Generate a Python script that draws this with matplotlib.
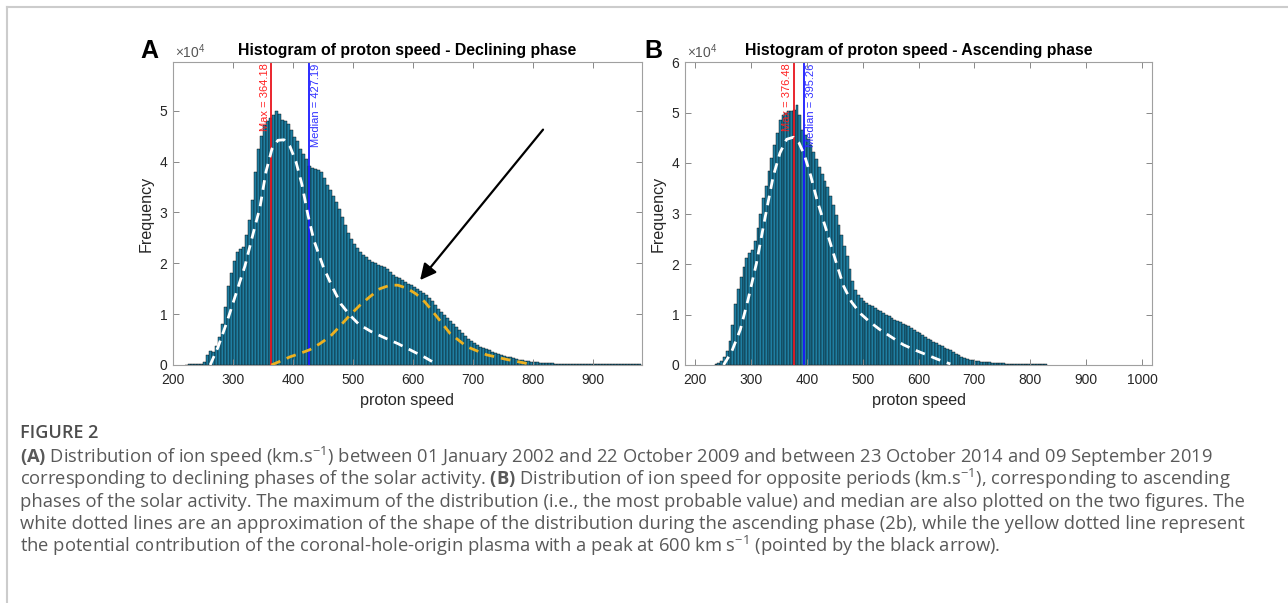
import matplotlib
matplotlib.use('Agg')
import matplotlib.pyplot as plt
from matplotlib.lines import Line2D
import numpy as np

plt.rcParams['font.family'] = ['Liberation Sans', 'DejaVu Sans']
plt.rcParams['mathtext.fontset'] = 'custom'
plt.rcParams['mathtext.rm'] = 'Open Sans'
plt.rcParams['mathtext.bf'] = 'Open Sans:bold'

# histogram bins (km/s), counts in units of 1e4
bin_w = 5

# panel A: declining phase, first bin starts at 220 km/s
a_start = 220
a_counts = [0.00, 0.02, 0.02, 0.02, 0.02, 0.02, 0.05, 0.20, 0.27, 0.25,
            0.38, 0.55, 0.80, 1.15, 1.55, 1.80, 2.05, 2.22, 2.28, 2.32,
            2.55, 2.85, 3.25, 3.80, 4.25, 4.50, 4.72, 4.80, 4.85, 4.92,
            4.99, 4.93, 4.82, 4.80, 4.75, 4.62, 4.48, 4.40, 4.25, 4.15,
            4.05, 3.92, 3.88, 3.86, 3.84, 3.80, 3.68, 3.55, 3.44, 3.32,
            3.20, 3.07, 2.92, 2.75, 2.60, 2.48, 2.38, 2.30, 2.23, 2.17,
            2.12, 2.07, 2.03, 2.00, 1.97, 1.95, 1.92, 1.88, 1.82, 1.77,
            1.74, 1.72, 1.68, 1.64, 1.60, 1.57, 1.54, 1.50, 1.46, 1.41,
            1.37, 1.32, 1.25, 1.18, 1.10, 1.04, 0.98, 0.92, 0.86, 0.80,
            0.75, 0.68, 0.62, 0.57, 0.51, 0.47, 0.43, 0.39, 0.36, 0.33,
            0.31, 0.29, 0.26, 0.24, 0.22, 0.20, 0.18, 0.16, 0.15, 0.13,
            0.12, 0.10, 0.09, 0.08, 0.07, 0.06, 0.055, 0.05, 0.045, 0.04,
            0.035, 0.03, 0.03, 0.025, 0.025, 0.02, 0.02, 0.02, 0.018, 0.015,
            0.015, 0.015, 0.012, 0.012, 0.012, 0.01, 0.01, 0.01, 0.01, 0.01,
            0.01, 0.01, 0.01, 0.01, 0.01, 0.01, 0.01, 0.01, 0.01, 0.01,
            0.01, 0.01]
a_max = 364.18
a_median = 427.19

# white dashed fit (panel A)
a_white_v = [262, 275, 290, 305, 320, 335, 345, 355, 365, 375, 385, 395, 405, 415,
             425, 435, 450, 465, 480, 495, 510, 530, 550, 575, 600, 620, 642]
a_white_f = [0.00, 0.35, 0.85, 1.40, 1.95, 2.65, 3.10, 3.80, 4.25, 4.42, 4.43, 4.30,
             4.00, 3.55, 2.95, 2.45, 1.95, 1.55, 1.20, 0.98, 0.80, 0.66, 0.55, 0.42,
             0.27, 0.15, 0.00]

# yellow dashed fit (panel A, coronal-hole component)
a_yellow_v = [364, 380, 395, 410, 428, 445, 462, 478, 495, 512, 528, 545, 562, 575,
              590, 605, 620, 640, 662, 690, 723, 756, 790]
a_yellow_f = [0.00, 0.08, 0.16, 0.22, 0.30, 0.42, 0.56, 0.76, 0.98, 1.18, 1.34, 1.50,
              1.57, 1.57, 1.51, 1.40, 1.24, 0.95, 0.62, 0.36, 0.20, 0.11, 0.03]

# arrow in panel A (tail -> head)
arrow_tail = (817, 4.63)
arrow_head = (612, 1.67)

# panel B: ascending phase, first bin starts at 235 km/s
b_start = 235
b_counts = [0.01, 0.03, 0.07, 0.15, 0.28, 0.48, 0.80, 1.20, 1.50, 1.75,
            1.95, 2.12, 2.22, 2.28, 2.45, 2.72, 3.00, 3.30, 3.55, 3.85,
            4.10, 4.35, 4.60, 4.85, 4.95, 5.00, 5.02, 5.02, 5.05, 5.14,
            4.95, 4.65, 4.55, 4.48, 4.35, 4.21, 4.08, 3.92, 3.78, 3.64,
            3.52, 3.35, 3.17, 2.98, 2.78, 2.58, 2.36, 2.15, 1.90, 1.66,
            1.48, 1.38, 1.32, 1.27, 1.23, 1.19, 1.16, 1.12, 1.09, 1.06,
            1.03, 1.00, 0.97, 0.93, 0.90, 0.87, 0.85, 0.82, 0.80, 0.77,
            0.74, 0.70, 0.66, 0.63, 0.60, 0.56, 0.52, 0.49, 0.46, 0.43,
            0.40, 0.37, 0.34, 0.31, 0.29, 0.26, 0.22, 0.19, 0.16, 0.14,
            0.12, 0.10, 0.09, 0.08, 0.07, 0.06, 0.06, 0.05, 0.05, 0.04,
            0.04, 0.035, 0.03, 0.03, 0.025, 0.025, 0.02, 0.02, 0.02, 0.015,
            0.015, 0.015, 0.012, 0.012, 0.01, 0.01, 0.01, 0.01, 0.01]
b_max = 376.48
b_median = 395.26

b_white_v = [251, 265, 281, 295, 310, 325, 340, 352, 364, 376, 386, 396, 407, 418,
             430, 442, 454, 466, 480, 496, 512, 531, 552, 573, 595, 615, 635, 657]
b_white_f = [0.00, 0.25, 0.70, 1.30, 2.02, 2.90, 3.74, 4.20, 4.47, 4.51, 4.40, 4.15,
             3.75, 3.28, 2.85, 2.42, 1.98, 1.56, 1.25, 1.02, 0.86, 0.70, 0.55, 0.40,
             0.29, 0.20, 0.11, 0.02]

caption_lines = [
    r"$\mathbf{(A)}$ Distribution of ion speed (km.s$^{-1}$) between 01 January 2002 and 22 October 2009 and between 23 October 2014 and 09 September 2019",
    r"corresponding to declining phases of the solar activity. $\mathbf{(B)}$ Distribution of ion speed for opposite periods (km.s$^{-1}$), corresponding to ascending",
    "phases of the solar activity. The maximum of the distribution (i.e., the most probable value) and median are also plotted on the two figures. The",
    "white dotted lines are an approximation of the shape of the distribution during the ascending phase (2b), while the yellow dotted line represent",
    r"the potential contribution of the coronal-hole-origin plasma with a peak at 600 km s$^{-1}$ (pointed by the black arrow).",
]

bar_color = '#1f7ea1'
W, H = 1288, 603
fig = plt.figure(figsize=(W / 100, H / 100), dpi=100)


def px(x0, y0, x1, y1):
    return [x0 / W, 1 - y1 / H, (x1 - x0) / W, (y1 - y0) / H]


def draw_panel(ax, start, counts, vmax, vmed, white_v, white_f, xlim, ylim, xticks, yticks, title):
    centers = start + bin_w / 2 + bin_w * np.arange(len(counts))
    ax.bar(centers, counts, width=bin_w, color=bar_color, edgecolor='black', linewidth=0.3)
    ax.axvline(vmax, color='#e8141c', lw=1.3)
    ax.axvline(vmed, color='#1a1aff', lw=1.3)
    ax.text(vmax - 3, ylim[1] * 0.995, 'Max = %.2f' % vmax, rotation=90, ha='right', va='top',
            color='#ff2020', fontsize=8)
    ax.text(vmed + 3, ylim[1] * 0.995, 'Median = %.2f' % vmed, rotation=90, ha='left', va='top',
            color='#3030ff', fontsize=8)
    ax.plot(white_v, white_f, color='white', lw=2, dashes=(3.5, 2.5))
    ax.set_xlim(*xlim)
    ax.set_ylim(*ylim)
    ax.set_xticks(xticks)
    ax.set_yticks(yticks)
    ax.set_yticklabels([str(t) for t in yticks])
    ax.tick_params(direction='in', top=True, right=True, length=4, width=0.7,
                   color='#888888', labelcolor='#262626', labelsize=10, pad=4)
    ax.tick_params(axis='x', pad=6)
    for s in ax.spines.values():
        s.set_color('#a0a0a0')
        s.set_linewidth(0.8)
    ax.set_title(title, fontsize=11.4, fontweight='bold', pad=5)
    ax.set_xlabel('proton speed', fontsize=11.6, color='#262626', labelpad=4)
    ax.set_ylabel('Frequency', fontsize=11.6, color='#262626', labelpad=4)
    ax.text(0.005, 1.004, r'$\times$10$\mathregular{^{4}}$', transform=ax.transAxes,
            ha='left', va='bottom', fontsize=10, color='#555555')


ax_a = fig.add_axes(px(173, 62, 642, 365))
draw_panel(ax_a, a_start, a_counts, a_max, a_median, a_white_v, a_white_f,
           (200, 982), (0, 5.96), range(200, 901, 100), [0, 1, 2, 3, 4, 5],
           'Histogram of proton speed - Declining phase')
ax_a.plot(a_yellow_v, a_yellow_f, color='#edb120', lw=2, dashes=(3.5, 2.5))
ax_a.annotate('', xy=arrow_head, xytext=arrow_tail,
              arrowprops=dict(arrowstyle='-|>', color='black', lw=1.6,
                              mutation_scale=24, shrinkA=0, shrinkB=0))

ax_b = fig.add_axes(px(685, 62, 1152, 365))
draw_panel(ax_b, b_start, b_counts, b_max, b_median, b_white_v, b_white_f,
           (182, 1018), (0, 6), range(200, 1001, 100), [0, 1, 2, 3, 4, 5, 6],
           'Histogram of proton speed - Ascending phase')

fig.text(149 / W, 1 - 51 / H, 'A', fontsize=18, fontweight='bold', ha='center', va='center')
fig.text(653 / W, 1 - 51 / H, 'B', fontsize=18, fontweight='bold', ha='center', va='center')

# caption
cap_font = ['Open Sans', 'DejaVu Sans']
fig.text(20 / W, 1 - 433 / H, 'FIGURE 2', fontsize=13, color='#4d4d4d',
         family=cap_font, weight='semibold', va='center')
for i, line in enumerate(caption_lines):
    fig.text(20 / W, 1 - (457 + 22.3 * i) / H, line, fontsize=13.2, color='#595959',
             family=cap_font, va='center')

# light frame (left and top edges)
fig.add_artist(Line2D([7 / W, 7 / W], [0, 1 - 7 / H], color='#cccccc', lw=1.5))
fig.add_artist(Line2D([7 / W, 1], [1 - 7 / H, 1 - 7 / H], color='#cccccc', lw=1.5))

fig.savefig('out.png', dpi=100)
